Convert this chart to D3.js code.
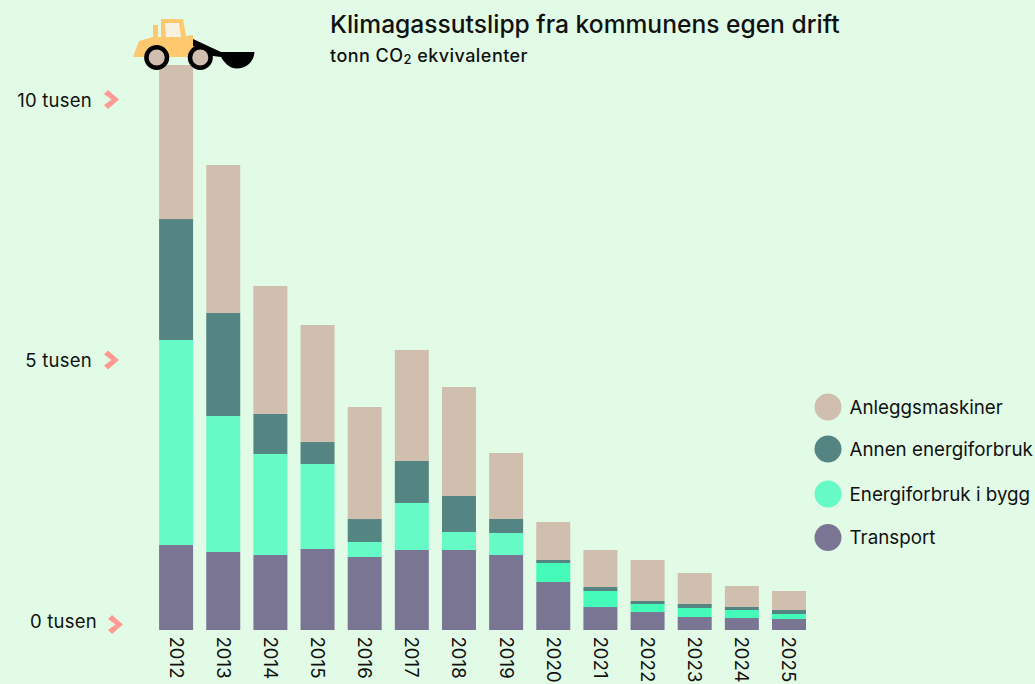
<!DOCTYPE html>
<html><head><meta charset="utf-8">
<script src="https://cdn.jsdelivr.net/npm/d3@7"></script>
<style>
html,body{margin:0;padding:0;background:#e2fbe6;overflow:hidden}
svg{display:block}
text{font-family:"Inter","Noto Sans",sans-serif;fill:#111}
</style></head><body>
<svg id="c" width="1035" height="684"></svg>
<script>
const years=[2012,2013,2014,2015,2016,2017,2018,2019,2020,2021,2022,2023,2024,2025];
const transport=[1631,1497,1440,1555,1401,1536,1536,1440,921,441,345,250,230,211];
const energiBygg=[3935,2610,1939,1631,288,902,345,422,365,307,154,173,154,96];
const annenEnergi=[2322,1977,768,422,441,806,691,269,58,77,58,77,58,77];
const anlegg=[2956,2841,2457,2246,2150,2131,2092,1267,729,710,787,595,403,365];
const seriesNames=["Anleggsmaskiner","Annen energiforbruk","Energiforbruk i bygg","Transport"];
const seriesColors=["#d0bfae","#558582","#66fbc6","#797593"];
const mintLate="#44fbb9";
const yTicks=[0,5000,10000];
const yTickFmt=d=>(d/1000)+" tusen";
const title="Klimagassutslipp fra kommunens egen drift";

const svg=d3.select("#c");
const y=d3.scaleLinear().domain([0,10000]).range([630,109]);
const x=d3.scaleBand().domain(years).range([152.5,812.6]).paddingInner(0.279).paddingOuter(0.14);

const rows=years.map((yr,i)=>({yr,Transport:transport[i],Energi:energiBygg[i],Annen:annenEnergi[i],Anlegg:anlegg[i]}));
const keys=["Transport","Energi","Annen","Anlegg"];
const colorOf={Transport:seriesColors[3],Energi:seriesColors[2],Annen:seriesColors[1],Anlegg:seriesColors[0]};
const stack=d3.stack().keys(keys)(rows);

svg.append("g").selectAll("g").data(stack).join("g").each(function(s){
  d3.select(this).selectAll("rect").data(s).join("rect")
    .attr("x",d=>x(d.data.yr)).attr("width",x.bandwidth())
    .attr("y",d=>y(d[1])).attr("height",d=>y(d[0])-y(d[1]))
    .attr("fill",d=>(s.key==="Energi"&&d.data.yr>=2020)?mintLate:colorOf[s.key]);
});

// y axis
const yAxis=svg.append("g").attr("transform","translate(0,-9)")
  .call(d3.axisLeft(y).tickValues(yTicks).tickFormat(yTickFmt).tickSize(0));
yAxis.select(".domain").remove();
yAxis.selectAll(".tick text").attr("x",d=>d===0?97:92).attr("dy","0.35em").attr("text-anchor","end")
  .style("font-size","18.5px").style("letter-spacing","0.25px").style("font-family",'"Inter","Noto Sans",sans-serif');
yAxis.selectAll(".tick").append("path")
  .attr("transform",d=>d===0?"translate(4,3)":"translate(0,-1)")
  .attr("d","M108,-9.5 L119,0 L108,9.5 L104,5.5 L111.5,0 L104,-5.5 Z").attr("fill","#ff9a94");

// x axis
const xAxis=svg.append("g").attr("transform","translate(0,630)").call(d3.axisBottom(x).tickSize(0));
xAxis.select(".domain").remove();
xAxis.selectAll(".tick text").attr("transform","rotate(90)").attr("x",6.5).attr("y",0).attr("dy","0.35em").attr("text-anchor","start")
  .style("font-size","18.6px").style("font-family",'"Inter","Noto Sans",sans-serif');

// title
svg.append("text").attr("x",330).attr("y",33).style("font-size","24.6px").style("font-weight",500).text(title);
const sub=svg.append("text").attr("x",330).attr("y",62).style("font-size","18px").style("font-weight",500).style("letter-spacing","0.45px");
sub.append("tspan").text("tonn CO");
sub.append("tspan").style("font-size","13px").attr("dy",2).text("2");
sub.append("tspan").attr("dy",-2).text(" ekvivalenter");

// legend
const legendY=[407,449,494,537.5];
const lg=svg.append("g").selectAll("g").data(seriesNames).join("g").attr("transform",(d,i)=>`translate(0,${legendY[i]})`);
lg.append("circle").attr("cx",828).attr("r",13.5).attr("fill",(d,i)=>seriesColors[i]);
lg.append("text").attr("x",849.5).attr("dy","0.35em").style("font-size","18.8px").text(d=>d);

// loader illustration
const bull=svg.append("g");
bull.append("path").attr("fill","#fec96e").attr("d","M133,57 L139,41 L153,37 L153,25 L158,25 L158,37 L161,37 L161,19 L183,19 L186,36 L193,35 L193,42 L193,57 Z");
bull.append("path").attr("fill","#f7f1e1").attr("d","M165,23 L179,23 L181,37 L166,37 Z");
bull.append("path").attr("fill","#000").attr("d","M193,39 L221,52 L254.5,52 C254,62 246,68.5 237,68.5 C229,68.5 224,62 221,57 L213,56 L193,46 Z");
[156.7,200.3].forEach(cx=>bull.append("circle").attr("cx",cx).attr("cy",57.5).attr("r",10.3).attr("fill","#d0bfae").attr("stroke","#000").attr("stroke-width",4.5));
</script></body></html>
